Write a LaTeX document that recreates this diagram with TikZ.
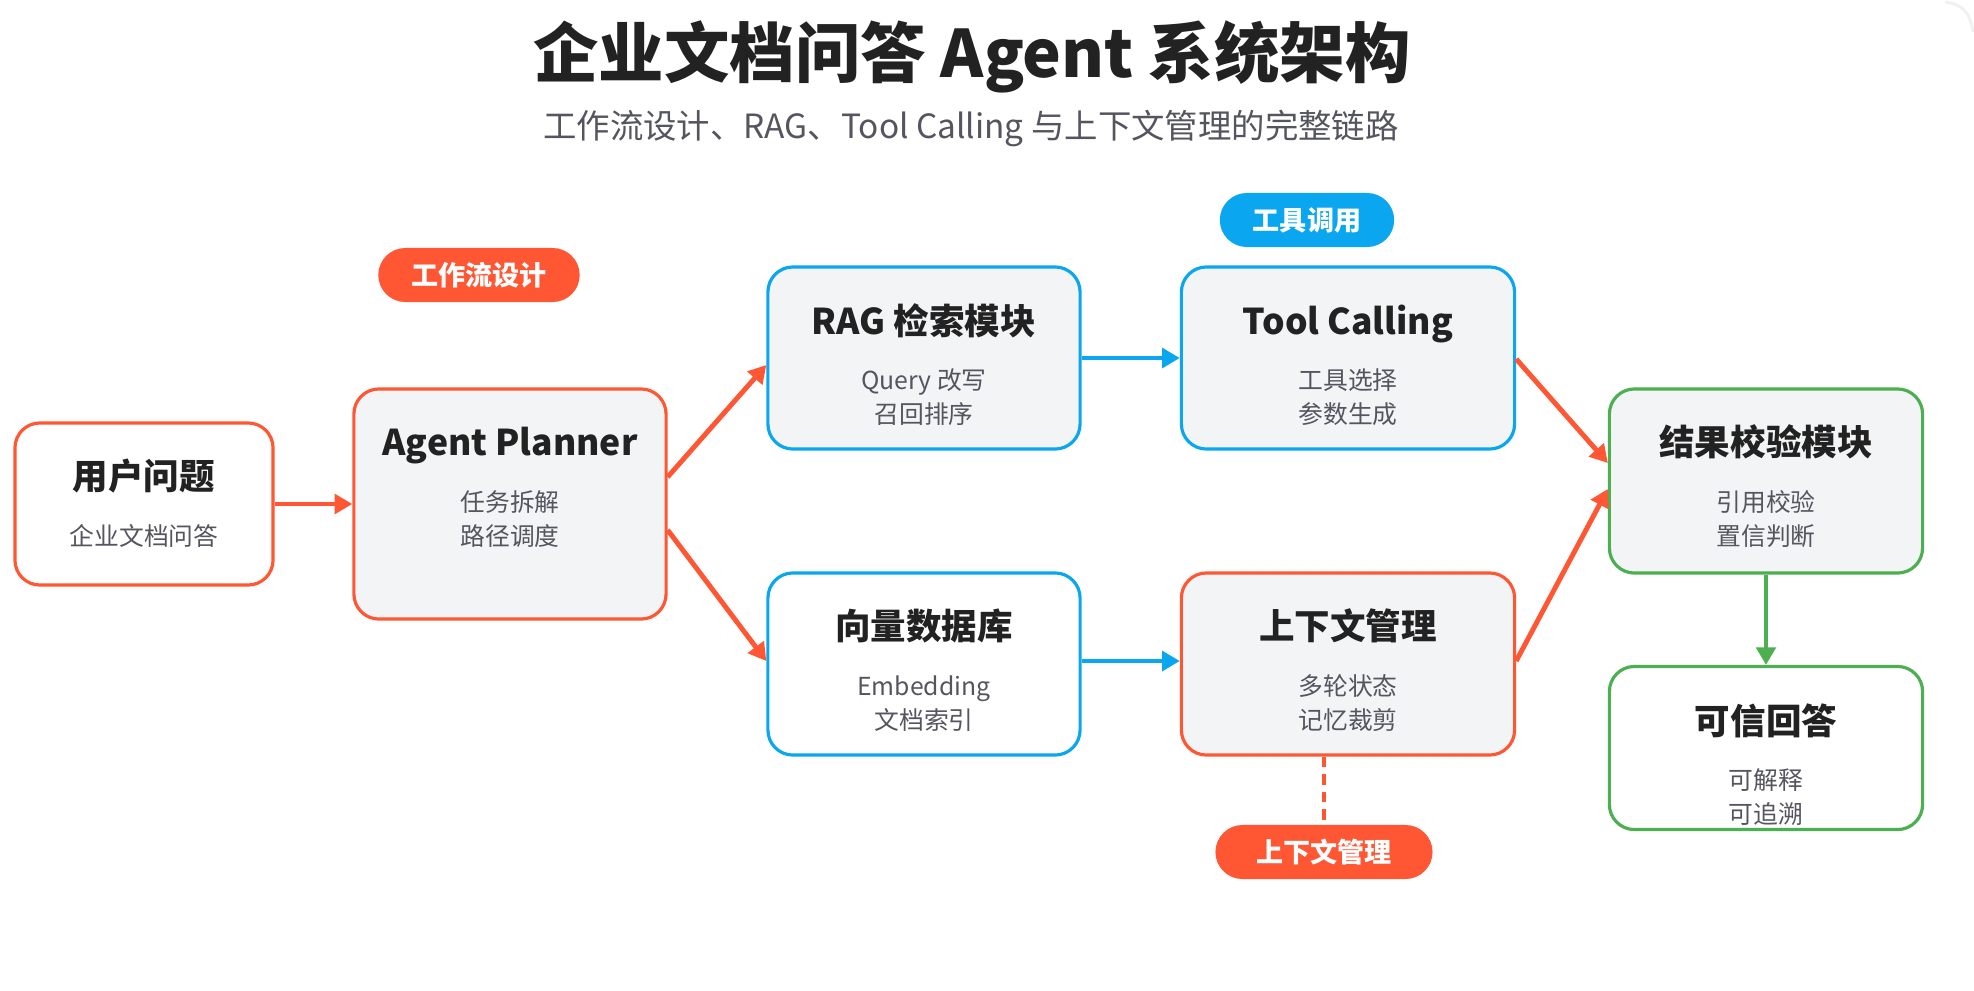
\documentclass[tikz,border=0pt]{standalone}
\usepackage{fontspec}
\setmainfont{Noto Sans CJK SC}
\usepackage{tikz}
\usetikzlibrary{calc,arrows.meta}

\definecolor{flowred}{HTML}{FF5733}
\definecolor{toolblue}{HTML}{0AA6F0}
\definecolor{okgreen}{HTML}{4CAF50}
\definecolor{cardgray}{HTML}{F3F4F6}
\definecolor{inkdark}{HTML}{222222}
\definecolor{inkgray}{HTML}{555560}

\begin{document}
\begin{tikzpicture}[x=0.01cm, y=-0.01cm,
    card/.style={draw, line width=0.9pt, rounded corners=0.25cm, inner sep=0pt},
    head/.style={font=\bfseries\fontsize{10.1}{12}\selectfont, text=inkdark,
      text height=0.88em, text depth=0.12em, inner sep=0pt},
    sub/.style={font=\fontsize{7.05}{9}\selectfont, text=inkgray,
      text height=0.88em, text depth=0.12em, inner sep=0pt},
    pill/.style={rounded corners=0.27cm, minimum height=0.54cm, inner xsep=0.33cm,
      text=white, font=\bfseries\fontsize{7.7}{9}\selectfont},
    flow/.style={line width=1.4pt, -{Triangle[length=5pt,width=5.5pt]}}]
  % Khung
  \useasboundingbox (0,0) rectangle (1974,990);
  \fill[white] (0,0) rectangle (1974,990);
  \draw[gray!12, line width=0.8pt] (1945,2) .. controls (1962,4) and (1970,12) .. (1973,32);
  % Tiêu đề
  \node[font=\bfseries\fontsize{18.6}{22}\selectfont, text=inkdark] (title) at (972,57) {企业文档问答 Agent 系统架构};
  \node[font=\fontsize{9.5}{11}\selectfont, text=inkgray] (subtitle) at (971,128) {工作流设计、RAG、Tool Calling 与上下文管理的完整链路};
  % Các khối
  \node[card, draw=flowred, fill=white, minimum width=2.58cm, minimum height=1.62cm] (user) at (144,504) {};
  \node[card, draw=flowred, fill=cardgray, minimum width=3.12cm, minimum height=2.30cm] (plan) at (510,504) {};
  \node[card, draw=toolblue, fill=cardgray, minimum width=3.12cm, minimum height=1.82cm] (rag) at (924,358) {};
  \node[card, draw=toolblue, fill=cardgray, minimum width=3.33cm, minimum height=1.82cm] (tool) at (1348,358) {};
  \node[card, draw=toolblue, fill=white, minimum width=3.12cm, minimum height=1.82cm] (vec) at (924,664) {};
  \node[card, draw=flowred, fill=cardgray, minimum width=3.33cm, minimum height=1.82cm] (ctx) at (1348,664) {};
  \node[card, draw=okgreen, fill=cardgray, minimum width=3.13cm, minimum height=1.84cm] (check) at (1766,481) {};
  \node[card, draw=okgreen, fill=white, minimum width=3.13cm, minimum height=1.63cm] (ans) at (1766,748) {};
  % Chữ trong khối
  \node[head] (userH) at ($(user.north)+(0,55)$) {用户问题};
  \node[sub] (userS) at ($(user.north)+(0,111)$) {企业文档问答};
  \node[head] (planH) at ($(plan.north)+(0,55)$) {Agent Planner};
  \node[sub] (planS1) at ($(plan.north)+(0,111)$) {任务拆解};
  \node[sub] (planS2) at ($(plan.north)+(0,145)$) {路径调度};
  \node[head] (ragH) at ($(rag.north)+(0,56)$) {RAG 检索模块};
  \node[sub] (ragS1) at ($(rag.north)+(0,111)$) {Query 改写};
  \node[sub] (ragS2) at ($(rag.north)+(0,145)$) {召回排序};
  \node[head] (toolH) at ($(tool.north)+(0,56)$) {Tool Calling};
  \node[sub] (toolS1) at ($(tool.north)+(0,111)$) {工具选择};
  \node[sub] (toolS2) at ($(tool.north)+(0,145)$) {参数生成};
  \node[head] (vecH) at ($(vec.north)+(0,55)$) {向量数据库};
  \node[sub] (vecS1) at ($(vec.north)+(0,111)$) {Embedding};
  \node[sub] (vecS2) at ($(vec.north)+(0,145)$) {文档索引};
  \node[head] (ctxH) at ($(ctx.north)+(0,55)$) {上下文管理};
  \node[sub] (ctxS1) at ($(ctx.north)+(0,111)$) {多轮状态};
  \node[sub] (ctxS2) at ($(ctx.north)+(0,145)$) {记忆裁剪};
  \node[head] (checkH) at ($(check.north)+(0,55)$) {结果校验模块};
  \node[sub] (checkS1) at ($(check.north)+(0,111)$) {引用校验};
  \node[sub] (checkS2) at ($(check.north)+(0,145)$) {置信判断};
  \node[head] (ansH) at ($(ans.north)+(0,56)$) {可信回答};
  \node[sub] (ansS1) at ($(ans.north)+(0,111)$) {可解释};
  \node[sub] (ansS2) at ($(ans.north)+(0,145)$) {可追溯};
  % Nhãn viên thuốc
  \node[pill, fill=flowred] (flowP) at (479,275) {工作流设计};
  \node[pill, fill=toolblue] (toolP) at (1307,220) {工具调用};
  \node[pill, fill=flowred, minimum width=2.17cm] (ctxP) at (1324,852) {上下文管理};
  % Mũi tên
  \draw[flow, flowred] (user.east) -- (plan.west);
  \draw[flow, flowred] ($(plan.east)+(0,-27)$) -- ($(rag.west)+(0,7)$);
  \draw[flow, flowred] ($(plan.east)+(0,26)$) -- ($(vec.west)+(0,-3)$);
  \draw[flow, toolblue] (rag.east) -- (tool.west);
  \draw[flow, toolblue] ($(vec.east)+(0,-3)$) -- ($(ctx.west)+(0,-3)$);
  \draw[flow, flowred] ($(tool.east)+(0,1)$) -- ($(check.west)+(0,-18)$);
  \draw[flow, flowred] ($(ctx.east)+(0,-3)$) -- ($(check.west)+(0,8)$);
  \draw[flow, okgreen] (check.south) -- (ans.north);
  % Đường nét đứt
  \draw[flowred, line width=1pt, dash pattern=on 3pt off 2pt] (ctx.south -| ctxP.north) -- (ctxP.north);
\end{tikzpicture}
\end{document}
